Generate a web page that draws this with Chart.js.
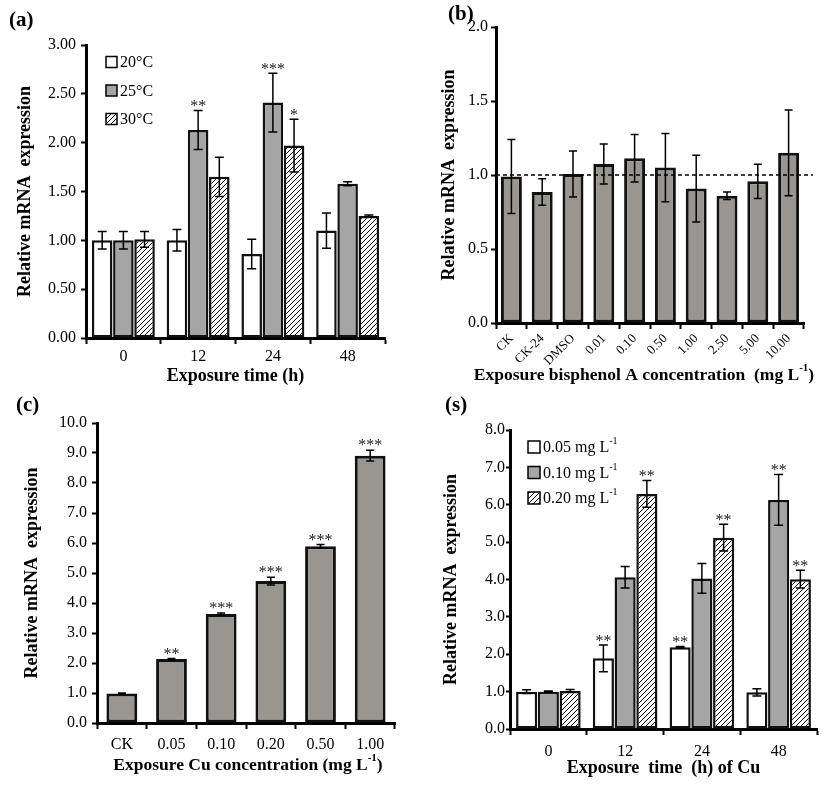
<!DOCTYPE html>
<html>
<head>
<meta charset="utf-8">
<script src="https://cdn.jsdelivr.net/npm/chart.js@4.4.1/dist/chart.umd.min.js"></script>
<style>
  body { margin: 0; background: #fff; width: 825px; height: 786px; position: relative; overflow: hidden; }
  canvas { position: absolute; }
</style>
</head>
<body>
<canvas id="chartA" width="412" height="390" style="left:0;top:0"></canvas>
<canvas id="chartB" width="413" height="390" style="left:412px;top:0"></canvas>
<canvas id="chartC" width="412" height="396" style="left:0;top:390px"></canvas>
<canvas id="chartS" width="413" height="396" style="left:412px;top:390px"></canvas>
<script>
// (a) temperature x exposure time
const timeLabels = ['0', '12', '24', '48'];
const tempNames = ['20°C', '25°C', '30°C'];
const temp20 = [1.00, 1.00, 0.86, 1.10];
const temp20Err = [0.09, 0.11, 0.15, 0.18];
const temp25 = [1.00, 2.13, 2.41, 1.58];
const temp25Err = [0.09, 0.20, 0.30, 0.02];
const temp30 = [1.01, 1.65, 1.97, 1.25];
const temp30Err = [0.08, 0.20, 0.27, 0.01];
const temp20Sig = ['', '', '', ''];
const temp25Sig = ['', '**', '***', ''];
const temp30Sig = ['', '', '*', ''];

// (b) bisphenol A concentration
const bpaLabels = ['CK', 'CK-24', 'DMSO', '0.01', '0.10', '0.50', '1.00', '2.50', '5.00', '10.00'];
const bpaValues = [0.99, 0.885, 1.007, 1.074, 1.113, 1.05, 0.908, 0.86, 0.957, 1.15];
const bpaErr = [0.25, 0.09, 0.155, 0.135, 0.16, 0.23, 0.225, 0.025, 0.115, 0.29];

// (c) Cu concentration
const cuLabels = ['CK', '0.05', '0.10', '0.20', '0.50', '1.00'];
const cuValues = [0.98, 2.13, 3.63, 4.73, 5.89, 8.91];
const cuErr = [0.02, 0.02, 0.04, 0.13, 0.06, 0.18];
const cuSig = ['', '**', '***', '***', '***', '***'];

// (s) Cu exposure time
const cuTimeLabels = ['0', '12', '24', '48'];
const cuDoseNames = ['0.05 mg L^-1', '0.10 mg L^-1', '0.20 mg L^-1'];
const cu005 = [1.00, 1.89, 2.19, 0.98];
const cu005Err = [0.05, 0.36, 0.02, 0.10];
const cu010 = [1.00, 4.06, 4.03, 6.13];
const cu010Err = [0.02, 0.29, 0.40, 0.68];
const cu020 = [1.02, 6.29, 5.12, 4.01];
const cu020Err = [0.04, 0.36, 0.36, 0.24];
const cu005Sig = ['', '**', '**', ''];
const cu010Sig = ['', '', '', '**'];
const cu020Sig = ['', '**', '**', '**'];

const SERIF = "'Liberation Serif', 'Times New Roman', serif";

// diagonal hatch fill
function hatch() {
  const c = document.createElement('canvas');
  c.width = 5; c.height = 5;
  const g = c.getContext('2d');
  g.fillStyle = '#fff';
  g.fillRect(0, 0, 5, 5);
  g.strokeStyle = '#000';
  g.lineWidth = 1;
  g.beginPath();
  g.moveTo(0, 5); g.lineTo(5, 0);
  g.moveTo(-1, 1); g.lineTo(1, -1);
  g.moveTo(4, 6); g.lineTo(6, 4);
  g.stroke();
  return g.createPattern(c, 'repeat');
}

// error bars + significance stars
const errorBars = {
  id: 'errorBars',
  afterDatasetsDraw(chart, args, opts) {
    const ctx = chart.ctx;
    const y = chart.scales.y;
    chart.data.datasets.forEach((ds, i) => {
      const meta = chart.getDatasetMeta(i);
      meta.data.forEach((bar, j) => {
        const v = ds.data[j];
        const e = ds.errors ? ds.errors[j] : 0;
        const yTop = y.getPixelForValue(v + e);
        const yBot = y.getPixelForValue(v - e);
        ctx.save();
        ctx.strokeStyle = '#000';
        ctx.lineWidth = 1.5;
        ctx.beginPath();
        ctx.moveTo(bar.x, yTop); ctx.lineTo(bar.x, yBot);
        ctx.moveTo(bar.x - opts.cap, yTop); ctx.lineTo(bar.x + opts.cap, yTop);
        ctx.moveTo(bar.x - opts.cap, yBot); ctx.lineTo(bar.x + opts.cap, yBot);
        ctx.stroke();
        if (ds.stars && ds.stars[j]) {
          ctx.fillStyle = '#222';
          ctx.font = '16px ' + SERIF;
          ctx.textAlign = 'center';
          ctx.textBaseline = 'alphabetic';
          ctx.fillText(ds.stars[j], bar.x, yTop + opts.starOffset);
        }
        ctx.restore();
      });
    });
  }
};

// text with raised parts ("^" marks the superscript), left-aligned at x
function drawRich(ctx, text, x, cy, size, weight) {
  const parts = text.split('^');
  const base = weight + ' ' + size + 'px ' + SERIF;
  const small = weight + ' ' + Math.round(size * 0.6) + 'px ' + SERIF;
  ctx.textAlign = 'left';
  parts.forEach((t, k) => {
    // anything after "^" up to the next space or ")" is raised
    let sup = '', rest = t;
    if (k > 0) {
      const m = t.match(/^[^ )]*/)[0];
      sup = m; rest = t.slice(m.length);
    }
    if (sup) {
      ctx.font = small;
      ctx.fillText(sup, x, cy - size * 0.4);
      x += ctx.measureText(sup).width;
    }
    ctx.font = base;
    ctx.fillText(rest, x, cy);
    x += ctx.measureText(rest).width;
  });
}

function richWidth(ctx, text, size, weight) {
  const parts = text.split('^');
  let w = 0;
  parts.forEach((t, k) => {
    let sup = '', rest = t;
    if (k > 0) { sup = t.match(/^[^ )]*/)[0]; rest = t.slice(sup.length); }
    ctx.font = weight + ' ' + Math.round(size * 0.6) + 'px ' + SERIF;
    w += ctx.measureText(sup).width;
    ctx.font = weight + ' ' + size + 'px ' + SERIF;
    w += ctx.measureText(rest).width;
  });
  return w;
}

// panel letter, reference line, inner legend, rich x title
const extras = {
  id: 'extras',
  afterDraw(chart, args, opts) {
    const ctx = chart.ctx;
    const area = chart.chartArea;
    ctx.save();
    ctx.fillStyle = '#000';
    ctx.font = 'bold 21px ' + SERIF;
    ctx.textBaseline = 'middle';
    ctx.textAlign = 'left';
    ctx.fillText(opts.letter, opts.lx, opts.ly);
    if (opts.refLine !== undefined) {
      const py = chart.scales.y.getPixelForValue(opts.refLine);
      ctx.strokeStyle = '#000';
      ctx.lineWidth = 1.3;
      ctx.setLineDash([4, 3]);
      ctx.beginPath();
      ctx.moveTo(area.left, py);
      ctx.lineTo(area.right + 9, py);
      ctx.stroke();
      ctx.setLineDash([]);
    }
    if (opts.richTitle) {
      const rt = opts.richTitle;
      const w = richWidth(ctx, rt.text, rt.size, 'bold');
      drawRich(ctx, rt.text, (area.left + area.right) / 2 + rt.dx - w / 2, rt.y, rt.size, 'bold');
    }
    if (opts.legend) {
      const lg = opts.legend;
      chart.data.datasets.forEach((ds, i) => {
        const bx = area.left + lg.x;
        const cy = area.top + lg.y + i * lg.gap;
        ctx.fillStyle = ds.backgroundColor;
        ctx.fillRect(bx, cy - lg.box / 2, lg.box, lg.box);
        ctx.strokeStyle = '#000';
        ctx.lineWidth = 1.5;
        ctx.strokeRect(bx, cy - lg.box / 2, lg.box, lg.box);
        ctx.fillStyle = '#000';
        drawRich(ctx, ds.label, bx + lg.box + 3, cy + 1, 16, 'normal');
      });
    }
    ctx.restore();
  }
};

function makeChart(id, cfg) {
  new Chart(document.getElementById(id), {
    type: 'bar',
    data: { labels: cfg.labels, datasets: cfg.datasets },
    plugins: [errorBars, extras],
    options: {
      responsive: false,
      animation: false,
      layout: { padding: cfg.padding },
      datasets: {
        bar: {
          categoryPercentage: cfg.catPct,
          barPercentage: cfg.barPct,
          borderColor: '#111',
          borderWidth: cfg.barBorder,
          borderSkipped: false
        }
      },
      plugins: {
        legend: { display: false },
        tooltip: { enabled: false },
        errorBars: { cap: cfg.cap, starOffset: cfg.starOffset },
        extras: cfg.extras
      },
      scales: {
        x: {
          afterFit: s => { s.height = cfg.xHeight; },
          grid: { offset: true, drawOnChartArea: false, tickLength: 6, tickWidth: 2, tickColor: '#000' },
          border: { color: '#000', width: 3 },
          ticks: {
            color: '#000',
            padding: cfg.xTickPad,
            autoSkip: false,
            maxRotation: cfg.xRot,
            minRotation: cfg.xRot,
            font: { family: SERIF, size: cfg.xTickSize }
          },
          title: {
            display: !!cfg.xTitle,
            text: cfg.xTitle || '',
            color: '#000',
            padding: { top: 0, bottom: cfg.xTitlePad },
            font: { family: SERIF, size: 18, weight: 'bold' }
          }
        },
        y: {
          min: 0,
          max: cfg.yMax,
          afterFit: s => { s.width = cfg.yWidth; },
          grid: { drawOnChartArea: false, tickLength: cfg.yTickLen, tickWidth: 2, tickColor: '#000' },
          border: { color: '#000', width: 3 },
          ticks: {
            stepSize: cfg.yStep,
            color: '#000',
            padding: cfg.yTickPad,
            font: { family: SERIF, size: 16 },
            callback: v => Number(v).toFixed(cfg.yDec)
          },
          title: {
            display: true,
            text: 'Relative mRNA  expression',
            color: '#000',
            padding: { top: 3, bottom: 0 },
            font: { family: SERIF, size: 18, weight: 'bold' }
          }
        }
      }
    }
  });
}

const hatchFill = hatch();
const grayA = '#a5a5a5';
const grayB = '#999591';

makeChart('chartA', {
  labels: timeLabels,
  datasets: [
    { label: tempNames[0], data: temp20, errors: temp20Err, stars: temp20Sig, backgroundColor: '#fff' },
    { label: tempNames[1], data: temp25, errors: temp25Err, stars: temp25Sig, backgroundColor: grayA },
    { label: tempNames[2], data: temp30, errors: temp30Err, stars: temp30Sig, backgroundColor: hatchFill }
  ],
  padding: { top: 45, left: 12, right: 27, bottom: 0 },
  catPct: 0.85, barPct: 0.97, barBorder: 2.5,
  cap: 4.5, starOffset: 1,
  xHeight: 52, xTickPad: 3, xRot: 0, xTickSize: 16,
  xTitle: 'Exposure time (h)', xTitlePad: 3,
  yMax: 3, yStep: 0.5, yDec: 2, yWidth: 74, yTickLen: 5, yTickPad: 5,
  extras: { letter: '(a)', lx: 9, ly: 21, legend: { x: 20, y: 17, gap: 28.5, box: 11 } }
});

makeChart('chartB', {
  labels: bpaLabels,
  datasets: [
    { label: 'BPA', data: bpaValues, errors: bpaErr, backgroundColor: grayB }
  ],
  padding: { top: 27, left: 24, right: 21, bottom: 0 },
  catPct: 0.68, barPct: 1, barBorder: 3,
  cap: 4, starOffset: 1,
  xHeight: 67, xTickPad: 2, xRot: 45, xTickSize: 13,
  xTitle: null, xTitlePad: 3,
  yMax: 2, yStep: 0.5, yDec: 1, yWidth: 60, yTickLen: 5, yTickPad: 3,
  extras: {
    letter: '(b)', lx: 36, ly: 15, refLine: 1,
    richTitle: { text: 'Exposure bisphenol A concentration  (mg L^-1)', dx: -6, y: 375, size: 17.5 }
  }
});

makeChart('chartC', {
  labels: cuLabels,
  datasets: [
    { label: 'Cu', data: cuValues, errors: cuErr, stars: cuSig, backgroundColor: grayB }
  ],
  padding: { top: 33, left: 19, right: 17, bottom: 0 },
  catPct: 0.62, barPct: 1, barBorder: 3,
  cap: 4, starOffset: 0,
  xHeight: 63, xTickPad: 6, xRot: 0, xTickSize: 16,
  xTitle: null, xTitlePad: 10,
  yMax: 10, yStep: 1, yDec: 1, yWidth: 78, yTickLen: 5, yTickPad: 5,
  extras: {
    letter: '(c)', lx: 16, ly: 16,
    richTitle: { text: 'Exposure Cu concentration (mg L^-1)', dx: 2, y: 375, size: 17.5 }
  }
});

makeChart('chartS', {
  labels: cuTimeLabels,
  datasets: [
    { label: cuDoseNames[0], data: cu005, errors: cu005Err, stars: cu005Sig, backgroundColor: '#fff' },
    { label: cuDoseNames[1], data: cu010, errors: cu010Err, stars: cu010Sig, backgroundColor: grayA },
    { label: cuDoseNames[2], data: cu020, errors: cu020Err, stars: cu020Sig, backgroundColor: hatchFill }
  ],
  padding: { top: 40, left: 26, right: 8, bottom: 0 },
  catPct: 0.85, barPct: 0.97, barBorder: 2.5,
  cap: 4.5, starOffset: 1,
  xHeight: 57, xTickPad: 7, xRot: 0, xTickSize: 16,
  xTitle: 'Exposure  time  (h) of Cu', xTitlePad: 7,
  yMax: 8, yStep: 1, yDec: 1, yWidth: 72, yTickLen: 4, yTickPad: 1,
  extras: { letter: '(s)', lx: 33, ly: 16, legend: { x: 18, y: 17, gap: 25.5, box: 12 } }
});
</script>
</body>
</html>
